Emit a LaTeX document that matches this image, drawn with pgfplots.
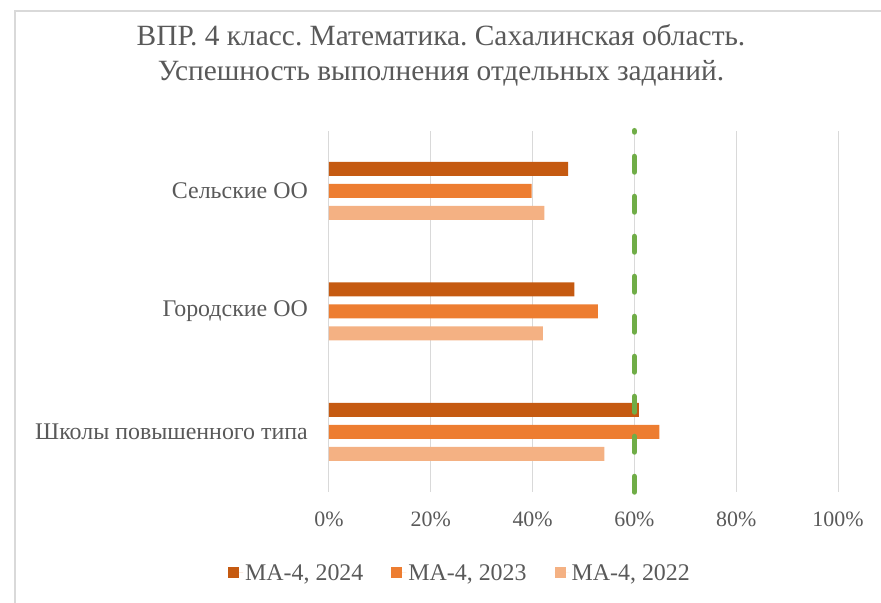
\documentclass[border=0pt]{standalone}
\usepackage{fontspec}
\setmainfont{Liberation Serif}
\usepackage{pgfplots}
\pgfplotsset{compat=1.18}
\definecolor{cA}{HTML}{C55A11}
\definecolor{cB}{HTML}{ED7D31}
\definecolor{cC}{HTML}{F4B183}
\definecolor{grn}{HTML}{70AD47}
\definecolor{txt}{HTML}{595959}
\definecolor{gridg}{HTML}{D9D9D9}
\frenchspacing
\begin{document}
\begin{tikzpicture}[x=1bp,y=1bp]
\useasboundingbox (-329,-111) rectangle (552,492);
\draw[color=gridg, line width=1.5bp] (-314,-111) -- (-314,481) -- (552,481);
\node[align=center, text=txt, font=\fontsize{29.5}{35}\selectfont] at (112,437)
  {ВПР. 4 класс. Математика. Сахалинская область.\\Успешность выполнения отдельных заданий.};
\begin{axis}[
  at={(0,0)}, anchor=south west,
  scale only axis, width=509bp, height=361.3bp,
  xmin=0, xmax=100, ymin=-0.5, ymax=2.5,
  clip=false,
  axis line style={draw=none},
  major tick length=0,
  xtick={0,20,40,60,80,100},
  xticklabel={\pgfmathprintnumber{\tick}\%},
  /pgf/number format/assume math mode=true,
  ytick={0,1,2},
  yticklabels={Школы повышенного типа, Городские ОО, Сельские ОО},
  tick label style={text=txt, inner sep=0pt},
  yticklabel style={xshift=-21bp, font=\fontsize{24}{28}\selectfont},
  xticklabel style={yshift=-20bp, font=\fontsize{22}{26}\selectfont},
  xmajorgrids, grid style={color=gridg, line width=1bp},
  legend columns=3,
  legend style={draw=none, fill=none, at={(0.2574,-0.224)}, anchor=center,
    font=\fontsize{24}{28}\selectfont, text=txt, inner xsep=0pt,
    /tikz/every even column/.append style={column sep=26bp}},
  legend image code/.code={\path (0bp,0bp) -- (15bp,0bp);\fill[#1] (0bp,-5.5bp) rectangle (11bp,5.5bp);},
]
\addplot[xbar, bar width=14bp, bar shift=22bp, fill=cA, draw=none]
  coordinates {(60.9,0) (48.2,1) (47.0,2)};
\addlegendentry{MA-4, 2024}
\addplot[xbar, bar width=14bp, bar shift=0bp, fill=cB, draw=none]
  coordinates {(64.9,0) (52.8,1) (39.8,2)};
\addlegendentry{MA-4, 2023}
\addplot[xbar, bar width=14bp, bar shift=-22bp, fill=cC, draw=none]
  coordinates {(54.1,0) (42.0,1) (42.3,2)};
\addlegendentry{MA-4, 2022}
\addplot[color=grn, line width=5.5bp, line cap=round, dash pattern=on 15.5bp off 24.5bp, forget plot]
  coordinates {(60,-0.5) (60,2.5)};
\end{axis}
\end{tikzpicture}
\end{document}
